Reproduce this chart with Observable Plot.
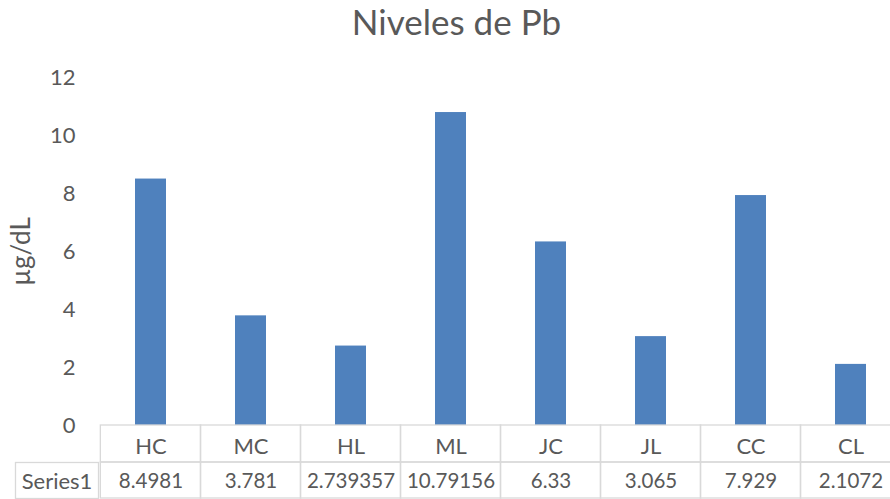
<!DOCTYPE html>
<html><head><meta charset="utf-8">
<script src="https://cdn.jsdelivr.net/npm/d3@7"></script>
<script src="https://cdn.jsdelivr.net/npm/@observablehq/plot@0.6"></script>
<style>html,body{margin:0;padding:0;background:#fff;overflow:hidden;width:890px;height:499px}</style>
</head><body><div id="chart"></div>
<script>
const title = "Niveles de Pb";
const yLabel = "µg/dL";
const seriesName = "Series1";
const categories = ["HC", "MC", "HL", "ML", "JC", "JL", "CC", "CL"];
const values = [8.4981, 3.781, 2.739357, 10.79156, 6.33, 3.065, 7.929, 2.1072];
const valueLabels = ["8.4981", "3.781", "2.739357", "10.79156", "6.33", "3.065", "7.929", "2.1072"];
const yTicks = [0, 2, 4, 6, 8, 10, 12];

const data = categories.map((c, i) => ({cat: c, value: values[i], label: valueLabels[i]}));

const W = 902, H = 499, mL = 98, mR = 0, mT = 77, mB = 74;
const pad = 0.69;
const step = (W - mL - mR) / categories.length;
const ext = step * pad / 2;
const frameH = H - mT - mB;
const row1 = 37, row2 = 36;
const gridColor = "#d9d9d9";
const textColor = "#595959";

const plot = Plot.plot({
  width: W, height: H,
  marginLeft: mL, marginRight: mR, marginTop: mT, marginBottom: mB,
  style: {fontFamily: "Lato, 'Open Sans', sans-serif", fontSize: "22px", color: textColor, background: "#fff", overflow: "visible", maxWidth: "none"},
  x: {type: "band", domain: categories, paddingInner: pad, paddingOuter: pad / 2, axis: null},
  y: {type: "linear", domain: [0, 12], ticks: yTicks, tickSize: 0, tickPadding: 23, label: null, tickFormat: d => String(d)},
  marks: [
    Plot.barY(data, {x: "cat", y: "value", fill: "#4f81bd"}),
    // table: category header row
    Plot.cell(data, {x: "cat", fill: "none", stroke: gridColor, strokeWidth: 1.3,
      insetLeft: -ext, insetRight: -ext, insetTop: frameH, insetBottom: -row1}),
    // table: value row
    Plot.cell(data, {x: "cat", fill: "none", stroke: gridColor, strokeWidth: 1.3,
      insetLeft: -ext, insetRight: -ext, insetTop: frameH + row1, insetBottom: -(row1 + row2)}),
    // table: series name cell
    Plot.frame({fill: "none", stroke: gridColor, strokeWidth: 1.3,
      insetLeft: -83, insetRight: W - mL - mR, insetTop: frameH + row1, insetBottom: -(row1 + row2)}),
    Plot.text(data, {x: "cat", text: "cat", frameAnchor: "bottom", textAnchor: "middle", lineAnchor: "middle", dy: 21, fill: textColor, fontSize: 22}),
    Plot.text(data, {x: "cat", text: "label", frameAnchor: "bottom", textAnchor: "middle", lineAnchor: "middle", dy: 56, fill: textColor, fontSize: 20.5}),
    Plot.text([seriesName], {text: d => d, frameAnchor: "bottom-left", textAnchor: "middle", lineAnchor: "middle", dx: -41.5, dy: 56, fill: textColor, fontSize: 22}),
    Plot.text([title], {text: d => d, frameAnchor: "top", textAnchor: "middle", lineAnchor: "middle", dx: -44, dy: -54, fill: textColor, fontSize: 35}),
    Plot.text([yLabel], {text: d => d, frameAnchor: "left", textAnchor: "middle", lineAnchor: "middle", rotate: -90, dx: -77, fill: textColor, fontSize: 26})
  ]
});
document.getElementById("chart").appendChild(plot);
</script>
</body></html>
